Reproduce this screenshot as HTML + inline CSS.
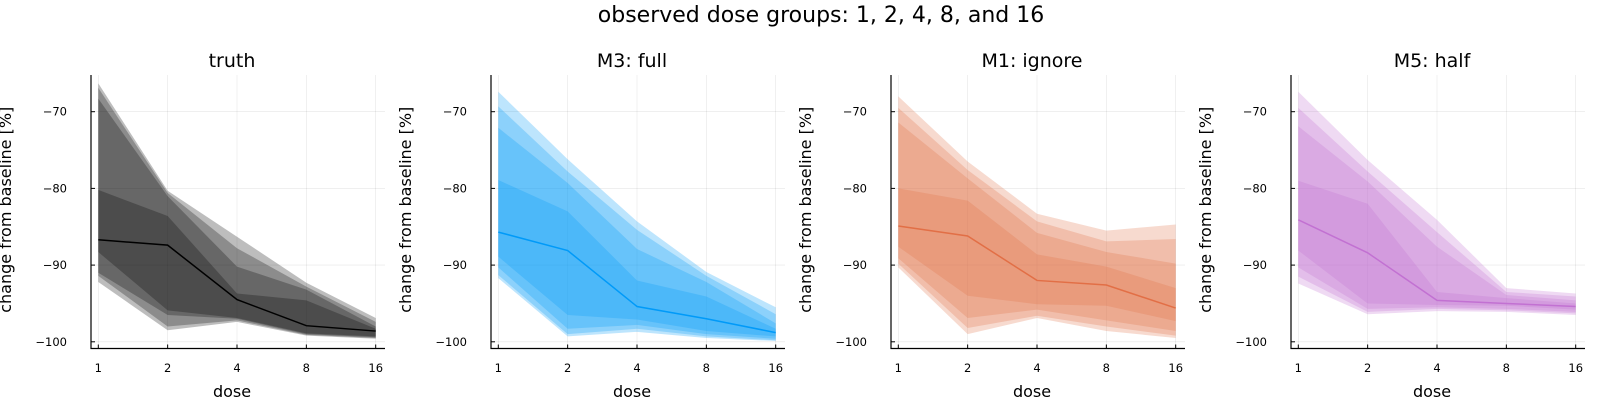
<!DOCTYPE html>
<html><head><meta charset="utf-8"><style>
body{margin:0;background:#fff;}
svg{display:block;font-family:"DejaVu Sans","Liberation Sans",sans-serif;}
</style></head><body>
<svg id="fig" width="1600" height="400" xmlns="http://www.w3.org/2000/svg">
<text x="821" y="22" font-size="22" text-anchor="middle" fill="#000">observed dose groups: 1, 2, 4, 8, and 16</text>
</svg>
<script>
const doses=[1,2,4,8,16];
const yTicks=[-70,-80,-90,-100];
const titles=["truth","M3: full","M1: ignore","M5: half"];
const colors=["#000000","#009af9","#e26f46","#c271d2"];
const truthHi=[[-66.3,-80.3,-86.3,-92.3,-96.9],[-66.9,-80.6,-87.8,-92.8,-97.4],[-68.3,-81.0,-90.2,-93.2,-98.0],[-80.2,-83.6,-93.7,-94.6,-98.3]];
const truthMed=[-86.7,-87.4,-94.5,-97.9,-98.6];
const truthLo=[[-88.3,-95.9,-96.9,-98.9,-99.3],[-91.0,-96.5,-97.0,-99.0,-99.4],[-91.4,-98.0,-97.2,-99.1,-99.5],[-92.2,-98.5,-97.4,-99.2,-99.6]];
const m3Hi=[[-67.4,-76.2,-84.3,-90.9,-95.5],[-69.3,-77.8,-85.4,-91.4,-96.4],[-72.1,-79.3,-87.9,-92.2,-97.6],[-78.9,-83.0,-92.0,-94.1,-98.3]];
const m3Med=[-85.7,-88.1,-95.4,-97.0,-98.8];
const m3Lo=[[-88.9,-96.5,-97.1,-98.6,-99.3],[-90.3,-98.3,-97.8,-99.0,-99.6],[-91.3,-99.0,-98.3,-99.3,-99.8],[-91.7,-99.3,-98.7,-99.5,-99.9]];
const m1Hi=[[-68.0,-76.5,-83.3,-85.5,-84.7],[-69.5,-77.6,-84.3,-86.9,-86.6],[-71.4,-78.7,-85.8,-88.3,-89.8],[-80.0,-81.6,-88.6,-90.2,-93.0]];
const m1Med=[-84.9,-86.2,-92.0,-92.6,-95.6];
const m1Lo=[[-87.6,-94.0,-95.1,-95.3,-97.3],[-89.1,-96.9,-95.8,-97.2,-98.6],[-89.8,-98.2,-96.6,-98.0,-99.2],[-90.3,-99.0,-96.9,-98.6,-99.5]];
const m5Hi=[[-67.4,-76.3,-84.1,-93.0,-93.7],[-69.5,-77.8,-85.7,-93.5,-94.1],[-71.9,-79.1,-87.6,-93.9,-94.6],[-79.0,-82.0,-93.5,-94.3,-95.0]];
const m5Med=[-84.1,-88.4,-94.6,-95.0,-95.4];
const m5Lo=[[-88.1,-95.0,-95.2,-95.3,-95.8],[-90.3,-95.7,-95.5,-95.7,-96.1],[-91.5,-96.1,-95.7,-95.9,-96.3],[-92.4,-96.4,-96.0,-96.1,-96.5]];
const panels=[[truthHi,truthMed,truthLo],[m3Hi,m3Med,m3Lo],[m1Hi,m1Med,m1Lo],[m5Hi,m5Med,m5Lo]];
const NS="http://www.w3.org/2000/svg";
const svg=document.getElementById('fig');
function mk(tag,attrs,parent){const e=document.createElementNS(NS,tag);for(const k in attrs)e.setAttribute(k,attrs[k]);(parent||svg).appendChild(e);return e;}
const yS=v=>111.7+(-70-v)*7.67;
panels.forEach((p,k)=>{
  const off=k*400;
  const xS=d=>98.3+off+Math.log2(d)*69.35;
  const g=mk('g',{});
  
  
  const L=91+off,R=385+off,T=75,B=348.5;
  yTicks.forEach(t=>{
    const l=mk('line',{x1:L,x2:R,y1:yS(t),y2:yS(t),stroke:'#000','stroke-opacity':0.1,'stroke-width':0.6},g);
    
    
    const tk=mk('line',{x1:L,x2:L+4,y1:yS(t),y2:yS(t),stroke:'#000','stroke-width':1},g);
    
    
    const tx=mk('text',{x:L-24,y:yS(t)+4,'font-size':11.5,'text-anchor':'end'},g);
    tx.textContent='\u2212'+Math.abs(t);
    
    
  });
  doses.forEach(d=>{
    const l=mk('line',{x1:xS(d),x2:xS(d),y1:T,y2:B,stroke:'#000','stroke-opacity':0.1,'stroke-width':0.6},g);
    
    
    const tk=mk('line',{x1:xS(d),x2:xS(d),y1:B,y2:B-4,stroke:'#000','stroke-width':1},g);
    
    
    const tx=mk('text',{x:xS(d),y:372,'font-size':11.5,'text-anchor':'middle'},g);
    tx.textContent=d;
    
    
  });
  const [hi,med,lo]=p;
  for(let b=0;b<4;b++){
    const up=hi[b],dn=lo[3-b];
    let pts=doses.map((d,i)=>xS(d)+','+yS(up[i]));
    pts=pts.concat(doses.slice().reverse().map((d,j)=>{const i=4-j;return xS(d)+','+yS(dn[i]);}));
    const poly=mk('polygon',{points:pts.join(' '),fill:colors[k],'fill-opacity':0.26},g);
    
    
  }
  const ln=mk('polyline',{points:doses.map((d,i)=>xS(d)+','+yS(med[i])).join(' '),fill:'none',stroke:colors[k],'stroke-width':1.5},g);
  
  
  const ax=mk('path',{d:`M${L},${T} L${L},${B} L${R},${B}`,fill:'none',stroke:'#000','stroke-width':1.2},g);
  
  
  const ti=mk('text',{x:(L+R)/2-6,y:67,'font-size':19,'text-anchor':'middle'},g);
  ti.textContent=titles[k];
  
  
  const xl=mk('text',{x:(L+R)/2-6,y:397,'font-size':16,'text-anchor':'middle'},g);
  xl.textContent='dose';
  
  
  const yl=mk('text',{x:0,y:0,'font-size':16,'text-anchor':'middle',transform:`translate(${off+11},${(T+B)/2-2}) rotate(-90)`},g);
  yl.textContent='change from baseline [%]';
  
  
});
</script>
</body></html>
